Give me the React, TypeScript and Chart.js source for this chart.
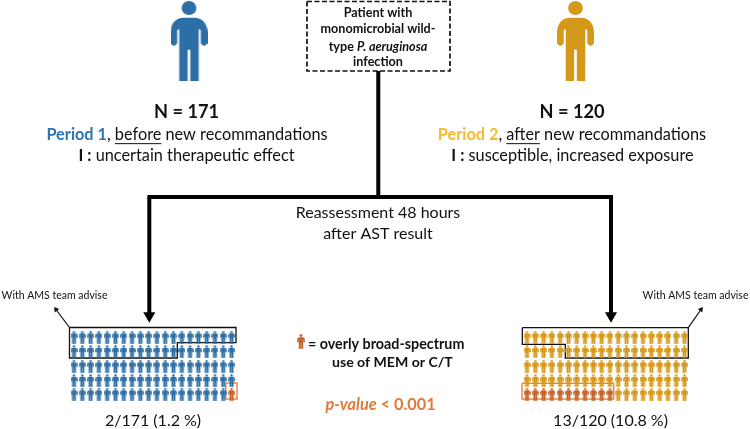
import { useEffect, useRef } from "react";
import { Chart, registerables } from "chart.js";

Chart.register(...registerables);

// ---------- data ----------
const groups = ["Period 1", "Period 2"];
const patientCounts = [171, 120];
const iconsPerRow = 20;
const iconRows = 5;
const iconsShown = [100, 100];
const flaggedIcons = [1, 11];
const rateLabels = ["2/171 (1.2 %)", "13/120 (10.8 %)"];

// ---------- layout (in page pixels: the scales run 0..750 and 0..429) ----------
const W = 750;
const H = 429;
const BLUE = "#2E6EA6";
const GOLD = "#D6981A";
const ORANGE = "#C4622A";
const BOX = "#E58A4E";
const FONT = "Lato, 'Open Sans', sans-serif";

const rowY = [337, 351.5, 366, 380.5, 394];
const gridLeft = [74, 527];
const colStep = 8.29;

type Pt = { x: number; y: number };
const pts = (a: number[][]): Pt[] => a.map(([x, y]) => ({ x, y }));

function personCanvas(w: number, h: number, color: string, thicken = 0) {
  const c = document.createElement("canvas");
  c.width = w;
  c.height = h;
  const g = c.getContext("2d")!;
  const m = thicken / 2;
  g.scale(w / (110 + thicken), h / (240 + thicken));
  g.translate(m, m);
  g.fillStyle = color;
  g.strokeStyle = color;
  g.lineWidth = thicken;
  g.lineJoin = "round";
  const paint = () => {
    g.fill();
    if (thicken > 0) g.stroke();
  };
  g.beginPath();
  g.ellipse(55, 21, 22, 21, 0, 0, Math.PI * 2);
  g.fill();
  g.beginPath();
  g.moveTo(36, 50);
  g.lineTo(74, 50);
  g.quadraticCurveTo(110, 55, 110, 97);
  g.lineTo(110, 127);
  g.quadraticCurveTo(100, 143, 90, 127);
  g.lineTo(90, 88);
  g.lineTo(84, 84);
  g.lineTo(84, 240);
  g.lineTo(59, 240);
  g.lineTo(59, 146);
  g.lineTo(51, 146);
  g.lineTo(51, 240);
  g.lineTo(26, 240);
  g.lineTo(26, 84);
  g.lineTo(20, 88);
  g.lineTo(20, 127);
  g.quadraticCurveTo(10, 143, 0, 127);
  g.lineTo(0, 97);
  g.quadraticCurveTo(0, 55, 36, 50);
  g.closePath();
  paint();
  return c;
}

function gridPoints(group: number, flagged: boolean): number[][] {
  const out: number[][] = [];
  const flag = flaggedIcons[group];
  const total = iconsShown[group];
  for (let i = 0; i < total; i++) {
    const row = Math.floor(i / iconsPerRow);
    const col = i % iconsPerRow;
    const isFlag =
      group === 0
        ? row === iconRows - 1 && col >= iconsPerRow - flag
        : row === iconRows - 1 && col < flag;
    if (isFlag === flagged) out.push([gridLeft[group] + col * colStep, rowY[row]]);
  }
  return out;
}

type Run = { t: string; b?: boolean; i?: boolean; u?: boolean; c?: string };
type Line = { x: number; y: number; size: number; align?: "left" | "center"; runs: Run[] };

const texts: Line[] = [
  { x: 378, y: 13, size: 12.6, runs: [{ t: "Patient with", b: true }] },
  { x: 378, y: 29, size: 12.6, runs: [{ t: "monomicrobial wild-", b: true }] },
  { x: 378, y: 46.5, size: 12.6, runs: [{ t: "type ", b: true }, { t: "P. aeruginosa", b: true, i: true }] },
  { x: 378, y: 62, size: 12.6, runs: [{ t: "infection", b: true }] },
  { x: 186.5, y: 112, size: 18.2, runs: [{ t: `N = ${patientCounts[0]}`, b: true }] },
  { x: 572, y: 112, size: 18.2, runs: [{ t: `N = ${patientCounts[1]}`, b: true }] },
  {
    x: 187,
    y: 135,
    size: 16.3,
    runs: [
      { t: groups[0], b: true, c: "#2E75B6" },
      { t: ", " },
      { t: "before", u: true },
      { t: " new recommandations" },
    ],
  },
  {
    x: 572,
    y: 135,
    size: 16.3,
    runs: [
      { t: groups[1], b: true, c: "#F7BB2A" },
      { t: ", " },
      { t: "after", u: true },
      { t: " new recommandations" },
    ],
  },
  { x: 186.5, y: 156, size: 16.3, runs: [{ t: "I :", b: true }, { t: " uncertain therapeutic effect" }] },
  { x: 572.5, y: 156, size: 16.3, runs: [{ t: "I :", b: true }, { t: " susceptible, increased exposure" }] },
  { x: 378, y: 213, size: 16, runs: [{ t: "Reassessment 48 hours" }] },
  { x: 378, y: 234, size: 16, runs: [{ t: "after AST result" }] },
  { x: 54.5, y: 296, size: 10.5, runs: [{ t: "With AMS team advise" }] },
  { x: 695.5, y: 296, size: 10.5, runs: [{ t: "With AMS team advise" }] },
  { x: 153, y: 421, size: 16, runs: [{ t: rateLabels[0] }] },
  { x: 610.5, y: 421, size: 16, runs: [{ t: rateLabels[1] }] },
  { x: 308, y: 344, size: 14.3, align: "left", runs: [{ t: "= overly broad-spectrum", b: true }] },
  { x: 332, y: 362.7, size: 14.1, align: "left", runs: [{ t: "use of MEM or C/T", b: true }] },
  {
    x: 380.5,
    y: 405,
    size: 16.3,
    runs: [
      { t: "p-value", b: true, i: true, c: "#E07B39" },
      { t: " < ", b: true, c: "#E07B39" },
      { t: "0.001", b: true, c: "#E07B39" },
    ],
  },
];

const textPlugin = {
  id: "diagramText",
  afterDatasetsDraw(chart: any) {
    const { ctx, scales } = chart;
    ctx.save();
    ctx.textBaseline = "middle";
    ctx.textAlign = "left";
    for (const line of texts) {
      const fontOf = (r: Run) =>
        `${r.i ? "italic " : ""}${r.b ? "bold " : ""}${line.size}px ${FONT}`;
      let total = 0;
      for (const r of line.runs) {
        ctx.font = fontOf(r);
        total += ctx.measureText(r.t).width;
      }
      let x = scales.x.getPixelForValue(line.x);
      const y = scales.y.getPixelForValue(line.y);
      if (line.align !== "left") x -= total / 2;
      for (const r of line.runs) {
        ctx.font = fontOf(r);
        ctx.fillStyle = r.c ?? "#111111";
        ctx.fillText(r.t, x, y);
        const w = ctx.measureText(r.t).width;
        if (r.u) ctx.fillRect(x, y + line.size * 0.5, w, 1);
        x += w;
      }
    }
    ctx.restore();
  },
};

function lineSet(points: number[][], color: string, width: number, dash: number[] = []) {
  return {
    type: "scatter" as const,
    data: pts(points),
    showLine: true,
    borderColor: color,
    borderWidth: width,
    borderDash: dash,
    borderJoinStyle: "miter",
    pointRadius: 0,
    fill: false,
    tension: 0,
    clip: false,
  };
}

function marker(points: number[][], style: any, radius: number, color: string, rotation = 0) {
  return {
    type: "scatter" as const,
    data: pts(points),
    pointStyle: style,
    pointRadius: radius,
    pointRotation: rotation,
    pointBackgroundColor: color,
    pointBorderColor: color,
    pointBorderWidth: 0,
    showLine: false,
    clip: false,
  };
}

export default function App() {
  const ref = useRef<HTMLCanvasElement>(null);
  useEffect(() => {
    const smallBlue = personCanvas(7, 13, BLUE, 6);
    const smallGold = personCanvas(7, 13, GOLD, 6);
    const smallOrange = personCanvas(7, 13, ORANGE, 6);
    const legendOrange = personCanvas(8, 15, ORANGE, 6);
    const bigBlue = personCanvas(37, 80, BLUE);
    const bigGold = personCanvas(37, 80, GOLD);

    const chart = new Chart(ref.current!, {
      type: "scatter",
      data: {
        datasets: [
          marker([[189, 41]], bigBlue, 10, BLUE),
          marker([[575.5, 41]], bigGold, 10, GOLD),
          marker(gridPoints(0, false), smallBlue, 4, BLUE),
          marker(gridPoints(0, true), smallOrange, 4, ORANGE),
          marker(gridPoints(1, false), smallGold, 4, GOLD),
          marker(gridPoints(1, true), smallOrange, 4, ORANGE),
          marker([[301, 341.5]], legendOrange, 4, ORANGE),
          lineSet([[378.3, 71], [378.3, 197]], "#000", 4),
          lineSet([[147.5, 197], [613, 197]], "#000", 4),
          lineSet([[149.3, 197], [149.3, 314]], "#000", 4),
          lineSet([[611, 197], [611, 314]], "#000", 4),
          marker([[149.3, 315.7], [611, 315.7]], "triangle", 7, "#000", 180),
          lineSet([[307, 1.5], [450, 1.5], [450, 71], [307, 71], [307, 1.5]], "#111", 1.7, [5, 2.5]),
          lineSet([[69.5, 327.5], [236, 327.5], [236, 342.7], [177.3, 342.7], [177.3, 358], [69.5, 358], [69.5, 327.5]], "#111", 1.3),
          lineSet([[522.3, 327.7], [688.3, 327.7], [688.3, 358], [565.3, 358], [565.3, 344.3], [522.3, 344.3], [522.3, 327.7]], "#111", 1.3),
          lineSet([[225.7, 383], [237, 383], [237, 399], [225.7, 399], [225.7, 383]], BOX, 1.5),
          lineSet([[522, 383.3], [613.7, 383.3], [613.7, 399], [522, 399], [522, 383.3]], BOX, 1.5),
          lineSet([[69.5, 327.5], [56, 309.5]], "#111", 1.2),
          lineSet([[688.3, 327.7], [701, 309.5]], "#111", 1.2),
          marker([[56, 309.5]], "triangle", 3.2, "#111", -37),
          marker([[701, 309.5]], "triangle", 3.2, "#111", 37),
        ] as any,
      },
      options: {
        animation: false,
        responsive: false,
        maintainAspectRatio: false,
        layout: { padding: 0, autoPadding: false },
        plugins: { legend: { display: false }, tooltip: { enabled: false }, title: { display: false } },
        scales: {
          x: { type: "linear", min: 0, max: W, display: false },
          y: { type: "linear", min: 0, max: H, reverse: true, display: false },
        },
      },
      plugins: [textPlugin],
    } as any);
    return () => chart.destroy();
  }, []);
  return (
    <canvas
      ref={ref}
      width={W}
      height={H}
      style={{ position: "fixed", left: 0, top: 0, width: W, height: H, display: "block", background: "#fff" }}
    />
  );
}
